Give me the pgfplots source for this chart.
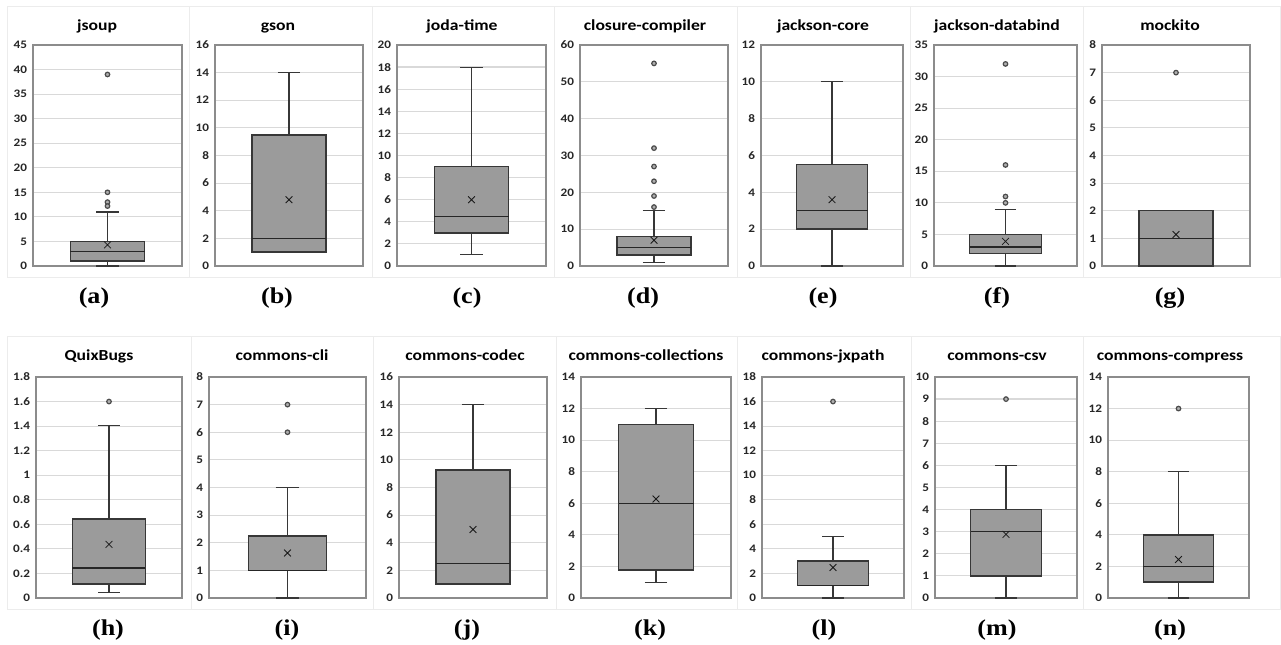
\documentclass[border=0pt]{standalone}
\usepackage{pgfplots}
\pgfplotsset{compat=1.18}
\usepgfplotslibrary{statistics}
\usepackage{fontspec}
\newfontfamily\calf{Carlito}[FakeStretch=1.15]
\newfontfamily\tnrf{Liberation Serif}[BoldFont={Liberation Serif Bold}, FakeStretch=1.15]
\newcommand\titf{\calf\bfseries\fontsize{11.5}{13}\selectfont}
\newcommand\tickf{\calf\bfseries\fontsize{8.6}{10}\selectfont}
\newcommand\labf{\tnrf\bfseries\fontsize{17}{20}\selectfont}
\definecolor{boxf}{RGB}{155,155,155}
\definecolor{boxe}{RGB}{55,55,55}
\definecolor{framec}{RGB}{140,140,140}
\definecolor{gridc}{RGB}{217,217,217}
\definecolor{panelc}{RGB}{236,236,236}
\definecolor{outf}{RGB}{175,175,175}
\definecolor{outd}{RGB}{75,75,75}
\pgfplotsset{
  bp/.style={
    scale only axis, anchor=south west,
    xmin=-1, xmax=1, xtick=\empty, ymin=0,
    ymajorgrids, major grid style={draw=gridc, line width=0.9pt},
    axis line style={draw=framec, line width=0.9pt},
    major tick length=0pt,
    /pgf/number format/assume math mode=true,
    yticklabel style={font=\tickf, text=black!85, xshift=-1pt},
    clip=false,
    boxplot/draw direction=y,
  },
  boxst/.style={draw=boxe, fill=boxf, line width=1.1pt, solid,
    boxplot/every whisker/.style={line width=0.8pt},
    boxplot/every median/.style={line width=1.1pt, draw=black!85}},
  outl/.style={only marks, mark=*, mark size=1.7pt, mark options={fill=outf, draw=outd, line width=0.9pt}},
  meanm/.style={only marks, mark=x, mark size=3.6pt, mark options={black!90, line width=0.6pt}},
}
\newcommand\bx[5]{\addplot[boxst, boxplot prepared={draw direction=y, draw position=0, lower whisker=#1, lower quartile=#2, median=#3, upper quartile=#4, upper whisker=#5, box extend=1, whisker extend=0.3}] coordinates {};}
\begin{document}
\begin{tikzpicture}
\begin{scope}[x=0.75pt,y=0.75pt]
\path[use as bounding box, fill=white] (0,0) rectangle (1281,645);
\foreach \a/\b in {7/189,189/372,372/554,554/737,737/910,910/1083,1083/1280}
  \draw[panelc, line width=0.75pt] (\a,367) rectangle (\b,638);
\foreach \a/\b in {7/191,191/373,373/556,556/737,737/911,911/1083,1083/1280}
  \draw[panelc, line width=0.75pt] (\a,35) rectangle (\b,308);
\end{scope}

% (a) jsoup
\begin{axis}[bp, at={(24.75pt,284.25pt)}, width=111.75pt, height=165.75pt, ymax=45, ytick={0,5,...,45}]
\bx{0}{1}{3}{5}{11}
\addplot[outl] coordinates {(0,39) (0,15) (0,13) (0,12.2)};
\addplot[meanm] coordinates {(0,4.3)};
\end{axis}
% (b) gson
\begin{axis}[bp, at={(161.25pt,284.25pt)}, width=111pt, height=165.75pt, ymax=16, ytick={0,2,...,16}]
\bx{1}{1}{2}{9.5}{14}
\addplot[meanm] coordinates {(0,4.8)};
\end{axis}
% (c) joda-time
\begin{axis}[bp, at={(297.75pt,284.25pt)}, width=111.75pt, height=165.75pt, ymax=20, ytick={0,2,...,20}]
\bx{1}{3}{4.5}{9}{18}
\addplot[meanm] coordinates {(0,6)};
\end{axis}
% (d) closure-compiler
\begin{axis}[bp, at={(435pt,284.25pt)}, width=111pt, height=165.75pt, ymax=60, ytick={0,10,...,60}]
\bx{1}{3}{5}{8}{15}
\addplot[outl] coordinates {(0,55) (0,32) (0,27) (0,23) (0,19) (0,16)};
\addplot[meanm] coordinates {(0,7)};
\end{axis}
% (e) jackson-core
\begin{axis}[bp, at={(570.75pt,284.25pt)}, width=106.5pt, height=165.75pt, ymax=12, ytick={0,2,...,12}]
\bx{0}{2}{3}{5.5}{10}
\addplot[meanm] coordinates {(0,3.6)};
\end{axis}
% (f) jackson-databind
\begin{axis}[bp, at={(700.5pt,284.25pt)}, width=107.25pt, height=165.75pt, ymax=35, ytick={0,5,...,35}]
\bx{0}{2}{3}{5}{9}
\addplot[outl] coordinates {(0,32) (0,16) (0,11) (0,10)};
\addplot[meanm] coordinates {(0,3.9)};
\end{axis}
% (g) mockito
\begin{axis}[bp, at={(826.5pt,284.25pt)}, width=111pt, height=165.75pt, ymax=8, ytick={0,1,...,8}]
\bx{0}{0}{1}{2}{2}
\addplot[outl] coordinates {(0,7)};
\addplot[meanm] coordinates {(0,1.14)};
\end{axis}

% (h) QuixBugs
\begin{axis}[bp, at={(27pt,35.25pt)}, width=109.5pt, height=165.75pt, ymax=1.8, ytick={0,0.2,0.4,0.6,0.8,1,1.2,1.4,1.6,1.8}, yticklabel style={/pgf/number format/fixed, /pgf/number format/precision=1}]
\bx{0.046}{0.115}{0.246}{0.642}{1.404}
\addplot[outl] coordinates {(0,1.6)};
\addplot[meanm] coordinates {(0,0.437)};
\end{axis}
% (i) commons-cli
\begin{axis}[bp, at={(156.75pt,35.25pt)}, width=117.75pt, height=165.75pt, ymax=8, ytick={0,1,...,8}]
\bx{0}{1}{1}{2.25}{4}
\addplot[outl] coordinates {(0,7) (0,6)};
\addplot[meanm] coordinates {(0,1.63)};
\end{axis}
% (j) commons-codec
\begin{axis}[bp, at={(299.25pt,35.25pt)}, width=111pt, height=165.75pt, ymax=16, ytick={0,2,...,16}]
\bx{1}{1}{2.5}{9.25}{14}
\addplot[meanm] coordinates {(0,4.96)};
\end{axis}
% (k) commons-collections
\begin{axis}[bp, at={(435.75pt,35.25pt)}, width=112.5pt, height=165.75pt, ymax=14, ytick={0,2,...,14}]
\bx{1}{1.78}{6}{11}{12}
\addplot[meanm] coordinates {(0,6.27)};
\end{axis}
% (l) commons-jxpath
\begin{axis}[bp, at={(571.5pt,35.25pt)}, width=106.5pt, height=165.75pt, ymax=18, ytick={0,2,...,18}]
\bx{0}{1}{1}{3}{5}
\addplot[outl] coordinates {(0,16)};
\addplot[meanm] coordinates {(0,2.48)};
\end{axis}
% (m) commons-csv
\begin{axis}[bp, at={(701.25pt,35.25pt)}, width=106.5pt, height=165.75pt, ymax=10, ytick={0,1,...,10}]
\bx{0}{1}{3}{4}{6}
\addplot[outl] coordinates {(0,9)};
\addplot[meanm] coordinates {(0,2.88)};
\end{axis}
% (n) commons-compress
\begin{axis}[bp, at={(831pt,35.25pt)}, width=105.75pt, height=165.75pt, ymax=14, ytick={0,2,...,14}]
\bx{0}{1}{2}{4}{8}
\addplot[outl] coordinates {(0,12)};
\addplot[meanm] coordinates {(0,2.44)};
\end{axis}

\begin{scope}[x=0.75pt,y=0.75pt]
\foreach \x/\t in {97/jsoup,278/gson,462/joda-time,645/closure-compiler,823/jackson-core,997/jackson-databind,1170/mockito}
  \node[anchor=base, font=\titf, inner sep=0pt] at (\x,614) {\t};
\foreach \x/\t in {99/QuixBugs,282/commons-cli,465/commons-codec,646/commons-collections,823/commons-jxpath,997/commons-csv,1170/commons-compress}
  \node[anchor=base, font=\titf, inner sep=0pt] at (\x,284) {\t};
\foreach \x/\t in {94/a,277/b,467/c,643/d,823/e,997/f,1170/g}
  \node[anchor=base, font=\labf, inner sep=0pt] at (\x,341) {(\t)};
\foreach \x/\t in {108/h,287/i,467/j,650/k,824/l,997/m,1170/n}
  \node[anchor=base, font=\labf, inner sep=0pt] at (\x,9) {(\t)};
\end{scope}
\end{tikzpicture}
\end{document}
